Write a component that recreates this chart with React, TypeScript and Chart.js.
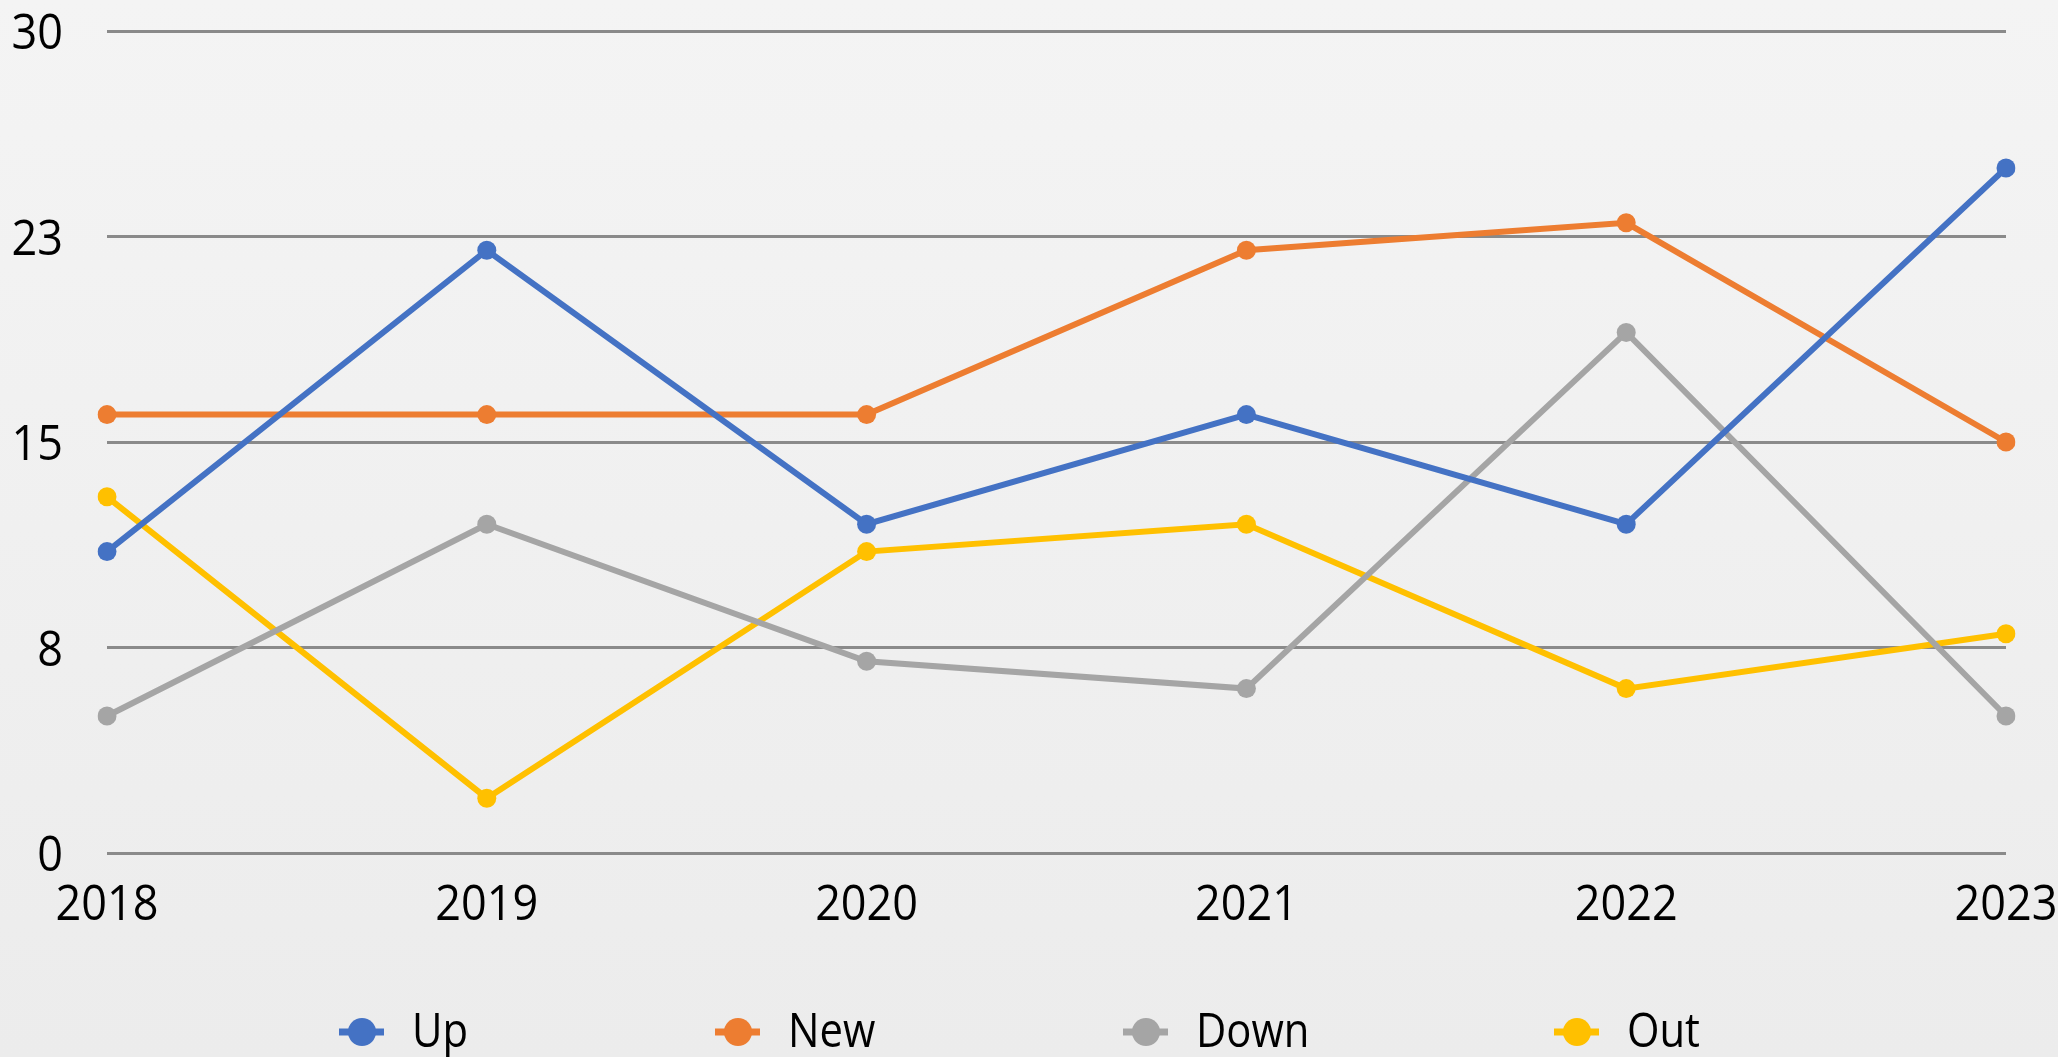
import React, { useEffect, useRef } from "react";
import { Chart, registerables } from "chart.js";
Chart.register(...registerables);

const years = ["2018", "2019", "2020", "2021", "2022", "2023"];
const upValues = [11, 22, 12, 16, 12, 25];
const newValues = [16, 16, 16, 22, 23, 15];
const downValues = [5, 12, 7, 6, 19, 5];
const outValues = [13, 2, 11, 12, 6, 8];
const seriesNames = ["Up", "New", "Down", "Out"];
const seriesColors = ["#4472C4", "#ED7D31", "#A5A5A5", "#FFC000"];
const yMax = 30;
const yStep = 7.5;

const FONT = "'Open Sans', 'Noto Sans', sans-serif";
const W = 2058;
const H = 1057;
const legendCenters = [362, 738, 1146, 1577];

const bgPlugin = {
  id: "bg",
  beforeDraw(chart: any) {
    const ctx = chart.ctx;
    const g = ctx.createLinearGradient(0, 0, 0, chart.height);
    g.addColorStop(0, "#f4f4f4");
    g.addColorStop(1, "#ececec");
    ctx.save();
    ctx.fillStyle = g;
    ctx.fillRect(0, 0, chart.width, chart.height);
    ctx.restore();
  },
};

function drawText(ctx: any, text: string, x: number, y: number, align: string, size: number, sx: number) {
  ctx.save();
  ctx.translate(x, y);
  ctx.scale(sx, 1);
  ctx.font = `${size}px ${FONT}`;
  ctx.fillStyle = "#000";
  ctx.textAlign = align;
  ctx.textBaseline = "alphabetic";
  ctx.fillText(text, 0, 0);
  ctx.restore();
}

const textPlugin = {
  id: "axisText",
  afterDraw(chart: any) {
    const ctx = chart.ctx;
    const ys = chart.scales.y;
    const xs = chart.scales.x;
    ys.ticks.forEach((t: any) => {
      const py = ys.getPixelForValue(t.value);
      drawText(ctx, String(Math.round(t.value)), 63, py + 18, "right", 50, 0.9);
    });
    chart.data.labels.forEach((lab: string, i: number) => {
      const px = xs.getPixelForValue(i);
      drawText(ctx, lab, px, 920, "center", 50, 0.9);
    });
    const y = 1032;
    chart.data.datasets.forEach((ds: any, i: number) => {
      const cx = legendCenters[i];
      ctx.save();
      ctx.strokeStyle = ds.borderColor;
      ctx.lineWidth = 7;
      ctx.beginPath();
      ctx.moveTo(cx - 23, y);
      ctx.lineTo(cx + 22, y);
      ctx.stroke();
      ctx.fillStyle = ds.borderColor;
      ctx.beginPath();
      ctx.arc(cx, y, 14, 0, Math.PI * 2);
      ctx.fill();
      ctx.restore();
      drawText(ctx, ds.label, cx + 50, 1047, "left", 48, 0.87);
    });
  },
};

export default function App() {
  const ref = useRef<HTMLCanvasElement>(null);
  useEffect(() => {
    document.body.style.margin = "0";
    const values = [upValues, newValues, downValues, outValues];
    const chart = new Chart(ref.current!, {
      type: "line",
      data: {
        labels: years,
        datasets: seriesNames.map((name, i) => ({
          label: name,
          data: values[i],
          borderColor: seriesColors[i],
          backgroundColor: seriesColors[i],
          pointBackgroundColor: seriesColors[i],
          pointBorderWidth: 0,
          pointRadius: 9.5,
          borderWidth: 6,
          tension: 0,
        })),
      },
      options: {
        responsive: false,
        animation: false,
        layout: { padding: { top: 31, right: 52, left: 0, bottom: 0 } },
        plugins: { legend: { display: false }, tooltip: { enabled: false } },
        scales: {
          x: {
            offset: false,
            grid: { display: false, drawTicks: false },
            border: { display: false },
            ticks: { display: false, autoSkip: false },
            afterFit(scale: any) {
              scale.height = 204;
            },
          },
          y: {
            min: 0,
            max: yMax,
            grid: { color: "#8a8a8a", lineWidth: 3, drawTicks: false },
            border: { display: false },
            ticks: { display: false, stepSize: yStep },
            afterFit(scale: any) {
              scale.width = 107;
            },
          },
        },
      },
      plugins: [bgPlugin, textPlugin],
    });
    return () => chart.destroy();
  }, []);
  return <canvas ref={ref} width={W} height={H} style={{ display: "block", width: W, height: H }} />;
}
